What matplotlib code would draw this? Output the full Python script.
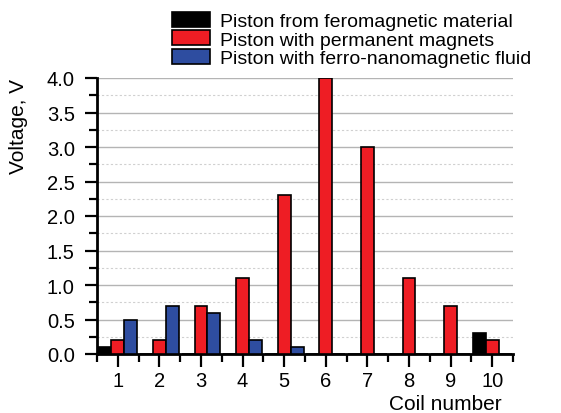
import matplotlib
matplotlib.use('Agg')
import matplotlib.pyplot as plt
import numpy as np
from matplotlib.ticker import MultipleLocator, FormatStrFormatter

plt.rcParams['font.family'] = ['Liberation Sans', 'DejaVu Sans']

coils = np.arange(1, 11)
fero = [0.1, 0, 0, 0, 0, 0, 0, 0, 0, 0.3]
perm = [0.2, 0.2, 0.7, 1.1, 2.3, 4.0, 3.0, 1.1, 0.7, 0.2]
fluid = [0.5, 0.7, 0.6, 0.2, 0.1, 0, 0, 0, 0, 0]

labels = ['Piston from feromagnetic material',
          'Piston with permanent magnets',
          'Piston with ferro-nanomagnetic fluid']
colors = ['#000000', '#ee1d24', '#2e4da0']

W, H = 561, 414
fig = plt.figure(figsize=(W/100, H/100), dpi=100)
ax = fig.add_axes([97/W, 1-355/H, (513-97)/W, (355-79)/H])

w = 0.31
for off, vals, c, lab in zip([-1, 0, 1], [fero, perm, fluid], colors, labels):
    ax.bar(coils + off*w, vals, w, color=c, edgecolor='black', linewidth=1.2,
           label=lab, zorder=3)

ax.set_xlim(0.5, 10.5)
ax.set_ylim(0, 4.0)
ax.set_xticks(coils)
ax.set_xticks(np.arange(0.5, 11, 1), minor=True)
ax.yaxis.set_major_locator(MultipleLocator(0.5))
ax.yaxis.set_minor_locator(MultipleLocator(0.25))
ax.yaxis.set_major_formatter(FormatStrFormatter('%.1f'))

ax.grid(axis='y', which='major', color='#b4b4b4', linewidth=1.0, zorder=0)
ax.grid(axis='y', which='minor', color='#d0d0d0', linewidth=0.8,
        linestyle=(0, (2, 2)), zorder=0)

for s in ['top', 'right']:
    ax.spines[s].set_visible(False)
ax.spines['left'].set_linewidth(2)
ax.spines['bottom'].set_linewidth(2)
ax.tick_params(which='major', direction='out', length=9, width=1.6, labelsize=14.5)
ax.tick_params(axis='y', which='major', pad=7)
ax.tick_params(axis='x', which='major', pad=3)
ax.tick_params(which='minor', direction='out', length=5.5, width=1.6)

fig.text(18/W, 1-126/H, 'Voltage, V', rotation=90, fontsize=15,
         ha='center', va='center')
fig.text(502/W, 1-410/H, 'Coil number', fontsize=15, ha='right', va='baseline')

h, l = ax.get_legend_handles_labels()
fig.legend(h, l, loc='upper left', bbox_to_anchor=(172/W, 1-13/H),
           frameon=False, fontsize=14, labelspacing=0.0, handlelength=1.96,
           handleheight=0.82, handletextpad=0.52, borderpad=0, borderaxespad=0)

fig.savefig('out.png', dpi=100)
